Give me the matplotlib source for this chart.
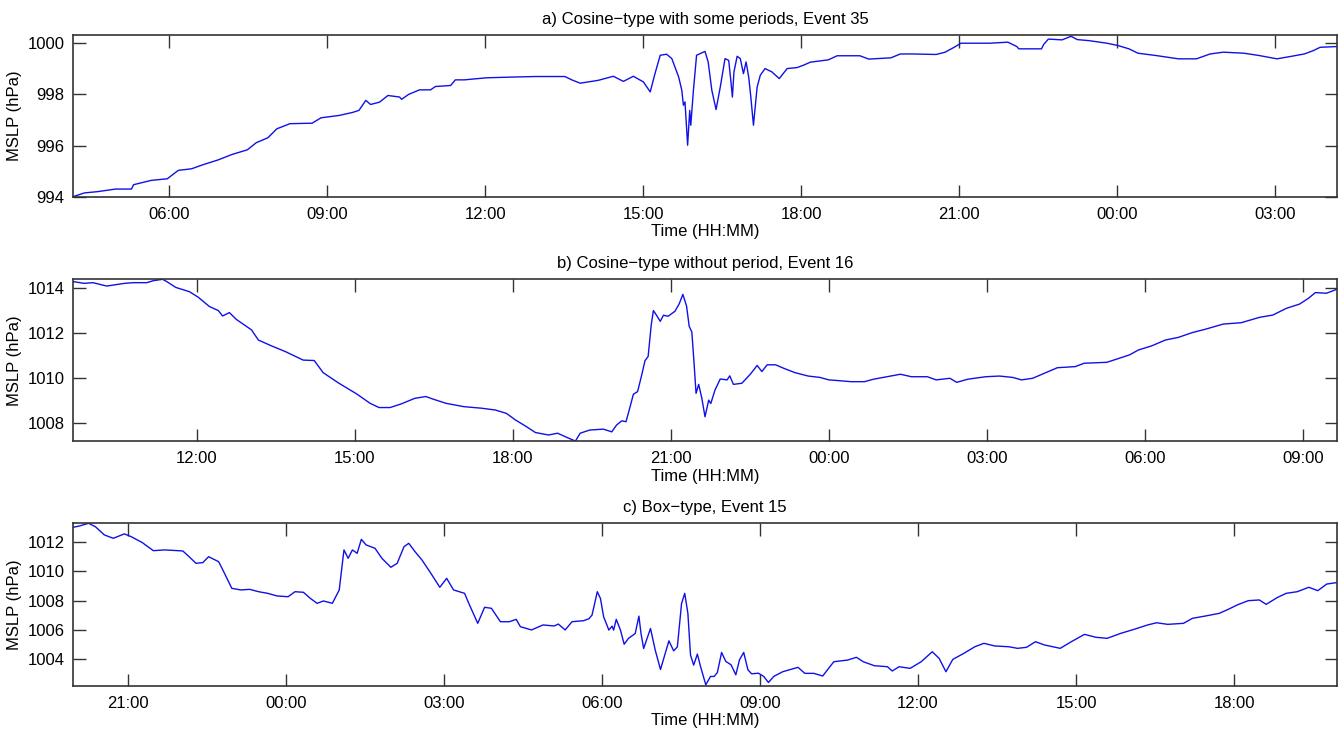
import matplotlib
matplotlib.use("Agg")
import matplotlib.pyplot as plt

plt.rcParams["font.family"] = ["Liberation Sans", "DejaVu Sans"]

# ---- a) Cosine-type with some periods, Event 35 (hours since 00:00 of day 1) ----
a_hours = [4.18, 4.39, 4.64, 4.98, 5.28, 5.32, 5.66, 5.96, 6.17, 6.42, 6.64, 6.93,
           7.19, 7.48, 7.65, 7.87, 8.04, 8.29, 8.71, 8.88, 9.22, 9.48, 9.60, 9.73,
           9.82, 9.99, 10.15, 10.37, 10.41, 10.54, 10.75, 10.96, 11.05, 11.34, 11.43,
           11.60, 12.02, 12.53, 12.95, 13.51, 13.64, 13.80, 14.14, 14.43, 14.62,
           14.81, 15.00, 15.13, 15.22, 15.32, 15.44, 15.54, 15.67, 15.73, 15.76,
           15.79, 15.84, 15.88, 15.90, 15.95, 16.01, 16.17, 16.23, 16.30, 16.38,
           16.46, 16.55, 16.62, 16.66, 16.69, 16.72, 16.78, 16.84, 16.90, 16.95,
           17.00, 17.04, 17.09, 17.16, 17.22, 17.31, 17.44, 17.58, 17.73, 17.92,
           18.05, 18.17, 18.51, 18.68, 19.11, 19.28, 19.70, 19.88, 20.13, 20.56,
           20.73, 20.90, 21.03, 21.58, 21.92, 22.09, 22.13, 22.56, 22.60, 22.69,
           22.95, 23.12, 23.24, 23.46, 23.80, 24.01, 24.22, 24.39, 24.73, 25.16,
           25.50, 25.76, 26.01, 26.40, 26.69, 27.03, 27.28, 27.55, 27.72, 27.85,
           28.17]
a_mslp = [994.02, 994.16, 994.21, 994.31, 994.31, 994.48, 994.65, 994.71, 995.04,
          995.10, 995.26, 995.45, 995.66, 995.84, 996.12, 996.31, 996.66, 996.86,
          996.88, 997.09, 997.18, 997.30, 997.38, 997.77, 997.61, 997.70, 997.96,
          997.90, 997.81, 998.00, 998.18, 998.18, 998.31, 998.35, 998.57, 998.57,
          998.65, 998.68, 998.70, 998.70, 998.57, 998.44, 998.55, 998.71, 998.51,
          998.71, 998.49, 998.10, 998.81, 999.53, 999.57, 999.40, 998.68, 998.16,
          997.58, 997.71, 996.02, 997.38, 996.80, 998.16, 999.53, 999.68, 999.27,
          998.16, 997.41, 998.29, 999.40, 999.33, 998.55, 997.90, 998.88, 999.49,
          999.40, 998.81, 999.27, 998.68, 997.90, 996.80, 998.29, 998.75, 999.01,
          998.88, 998.62, 999.01, 999.05, 999.15, 999.26, 999.35, 999.51, 999.51,
          999.38, 999.43, 999.58, 999.58, 999.56, 999.65, 999.84, 1000.00, 1000.00,
          1000.04, 999.87, 999.78, 999.78, 999.95, 1000.16, 1000.13, 1000.27,
          1000.14, 1000.10, 1000.00, 999.91, 999.78, 999.61, 999.52, 999.39, 999.39,
          999.58, 999.65, 999.61, 999.52, 999.39, 999.48, 999.58, 999.71, 999.84,
          999.87]
a_ticks = [6, 9, 12, 15, 18, 21, 24, 27]
a_ticklabels = ["06:00", "09:00", "12:00", "15:00", "18:00", "21:00", "00:00", "03:00"]
a_yticks = [994, 996, 998, 1000]

# ---- b) Cosine-type without period, Event 16 ----
b_hours = [9.65, 9.86, 10.03, 10.29, 10.63, 10.80, 11.05, 11.18, 11.35, 11.43, 11.60,
           11.86, 12.03, 12.24, 12.41, 12.49, 12.62, 12.75, 13.04, 13.17, 13.42,
           13.68, 14.02, 14.23, 14.40, 14.70, 15.04, 15.29, 15.46, 15.67, 15.88,
           16.14, 16.35, 16.48, 16.73, 17.07, 17.41, 17.67, 17.88, 18.05, 18.26,
           18.43, 18.68, 18.85, 19.02, 19.19, 19.28, 19.46, 19.72, 19.88, 19.97,
           20.07, 20.15, 20.22, 20.29, 20.37, 20.45, 20.51, 20.57, 20.63, 20.67,
           20.73, 20.80, 20.86, 20.95, 21.08, 21.16, 21.23, 21.30, 21.35, 21.40,
           21.44, 21.48, 21.53, 21.59, 21.65, 21.72, 21.76, 21.84, 21.94, 22.07,
           22.12, 22.19, 22.35, 22.51, 22.64, 22.73, 22.83, 22.99, 23.15, 23.36,
           23.61, 23.83, 24.00, 24.17, 24.42, 24.68, 24.85, 25.11, 25.36, 25.57,
           25.87, 26.04, 26.30, 26.43, 26.64, 26.98, 27.24, 27.49, 27.66, 27.87,
           28.09, 28.34, 28.68, 28.85, 29.28, 29.45, 29.71, 29.88, 30.13, 30.39,
           30.64, 30.90, 31.15, 31.49, 31.83, 32.18, 32.43, 32.69, 32.94, 33.11,
           33.24, 33.45, 33.65]
b_mslp = [1014.30, 1014.22, 1014.25, 1014.10, 1014.22, 1014.25, 1014.25, 1014.34,
          1014.40, 1014.30, 1014.04, 1013.85, 1013.60, 1013.19, 1013.01, 1012.77,
          1012.92, 1012.62, 1012.15, 1011.70, 1011.44, 1011.19, 1010.81, 1010.79,
          1010.25, 1009.78, 1009.30, 1008.89, 1008.70, 1008.70, 1008.86, 1009.11,
          1009.19, 1009.08, 1008.89, 1008.74, 1008.67, 1008.59, 1008.44, 1008.15,
          1007.85, 1007.59, 1007.48, 1007.56, 1007.38, 1007.21, 1007.56, 1007.70,
          1007.74, 1007.62, 1007.92, 1008.11, 1008.07, 1008.67, 1009.29, 1009.41,
          1010.16, 1010.78, 1010.97, 1012.39, 1013.01, 1012.80, 1012.53, 1012.80,
          1012.76, 1012.98, 1013.31, 1013.73, 1013.21, 1012.31, 1012.06, 1010.75,
          1009.33, 1009.73, 1009.11, 1008.29, 1009.03, 1008.88, 1009.48, 1009.97,
          1009.93, 1010.11, 1009.73, 1009.78, 1010.18, 1010.57, 1010.30, 1010.60,
          1010.60, 1010.44, 1010.25, 1010.10, 1010.04, 1009.93, 1009.90, 1009.85,
          1009.85, 1009.96, 1010.07, 1010.18, 1010.07, 1010.07, 1009.93, 1010.00,
          1009.82, 1009.96, 1010.07, 1010.10, 1010.04, 1009.93, 1010.00, 1010.22,
          1010.47, 1010.52, 1010.67, 1010.71, 1010.84, 1011.04, 1011.26, 1011.44,
          1011.70, 1011.82, 1012.03, 1012.18, 1012.41, 1012.47, 1012.71, 1012.81,
          1013.11, 1013.30, 1013.56, 1013.81, 1013.78, 1013.96]
b_ticks = [12, 15, 18, 21, 24, 27, 30, 33]
b_ticklabels = ["12:00", "15:00", "18:00", "21:00", "00:00", "03:00", "06:00", "09:00"]
b_yticks = [1008, 1010, 1012, 1014]

# ---- c) Box-type, Event 15 ----
c_hours = [19.96, 20.08, 20.25, 20.38, 20.55, 20.72, 20.93, 21.06, 21.27, 21.48,
           21.70, 22.04, 22.16, 22.29, 22.42, 22.53, 22.72, 22.80, 22.97, 23.14,
           23.31, 23.48, 23.65, 23.83, 24.04, 24.17, 24.33, 24.46, 24.59, 24.71,
           24.88, 25.01, 25.10, 25.18, 25.26, 25.35, 25.43, 25.52, 25.69, 25.82,
           25.99, 26.11, 26.24, 26.33, 26.45, 26.58, 26.75, 26.92, 27.05, 27.18,
           27.39, 27.47, 27.64, 27.77, 27.90, 28.07, 28.24, 28.37, 28.45, 28.66,
           28.88, 29.09, 29.17, 29.30, 29.43, 29.65, 29.75, 29.81, 29.91, 29.97,
           30.03, 30.13, 30.19, 30.22, 30.27, 30.35, 30.42, 30.50, 30.63, 30.70,
           30.74, 30.79, 30.92, 31.01, 31.11, 31.20, 31.27, 31.36, 31.43, 31.51,
           31.57, 31.63, 31.68, 31.74, 31.81, 31.87, 31.97, 32.06, 32.13, 32.19,
           32.27, 32.35, 32.45, 32.54, 32.61, 32.69, 32.77, 32.84, 32.97, 33.07,
           33.16, 33.26, 33.43, 33.72, 33.85, 34.02, 34.19, 34.40, 34.66, 34.83,
           34.96, 35.17, 35.42, 35.51, 35.64, 35.85, 36.06, 36.27, 36.40, 36.53,
           36.66, 36.87, 37.08, 37.25, 37.46, 37.72, 37.89, 38.06, 38.23, 38.40,
           38.70, 38.91, 39.16, 39.38, 39.59, 39.85, 40.10, 40.36, 40.53, 40.74,
           41.04, 41.21, 41.46, 41.72, 41.89, 42.06, 42.27, 42.48, 42.61, 42.82,
           42.99, 43.20, 43.42, 43.59, 43.76, 43.95]
c_mslp = [1012.98, 1013.07, 1013.25, 1013.02, 1012.46, 1012.23, 1012.53, 1012.34,
          1011.94, 1011.39, 1011.44, 1011.37, 1010.98, 1010.53, 1010.58, 1010.98,
          1010.64, 1010.08, 1008.83, 1008.72, 1008.76, 1008.60, 1008.49, 1008.31,
          1008.26, 1008.60, 1008.56, 1008.15, 1007.81, 1007.97, 1007.81, 1008.72,
          1011.44, 1010.87, 1011.44, 1011.21, 1012.16, 1011.78, 1011.55, 1010.87,
          1010.26, 1010.53, 1011.66, 1011.89, 1011.32, 1010.76, 1009.85, 1008.90,
          1009.51, 1008.72, 1008.49, 1007.81, 1006.45, 1007.54, 1007.47, 1006.56,
          1006.56, 1006.72, 1006.22, 1006.00, 1006.34, 1006.27, 1006.40, 1006.00,
          1006.56, 1006.63, 1006.76, 1007.01, 1008.60, 1008.14, 1006.90, 1005.99,
          1006.26, 1005.99, 1006.72, 1005.99, 1005.03, 1005.42, 1005.76, 1006.94,
          1005.76, 1004.74, 1006.10, 1004.63, 1003.31, 1004.40, 1005.26, 1004.58,
          1004.85, 1007.80, 1008.49, 1007.13, 1004.29, 1003.61, 1004.36, 1003.52,
          1002.27, 1002.84, 1002.84, 1003.11, 1004.47, 1003.86, 1003.63, 1002.95,
          1003.97, 1004.47, 1003.29, 1003.02, 1003.06, 1002.84, 1002.43, 1002.84,
          1003.16, 1003.46, 1003.05, 1003.05, 1002.87, 1003.84, 1003.95, 1004.14,
          1003.84, 1003.57, 1003.50, 1003.21, 1003.50, 1003.39, 1003.84, 1004.52,
          1004.07, 1003.16, 1004.00, 1004.41, 1004.86, 1005.09, 1004.91, 1004.86,
          1004.75, 1004.82, 1005.20, 1004.98, 1004.75, 1005.20, 1005.70, 1005.50,
          1005.43, 1005.77, 1006.04, 1006.34, 1006.49, 1006.38, 1006.45, 1006.79,
          1006.95, 1007.13, 1007.40, 1007.70, 1007.99, 1008.04, 1007.74, 1008.20,
          1008.49, 1008.60, 1008.90, 1008.67, 1009.12, 1009.22]
c_ticks = [21, 24, 27, 30, 33, 36, 39, 42]
c_ticklabels = ["21:00", "00:00", "03:00", "06:00", "09:00", "12:00", "15:00", "18:00"]
c_yticks = [1004, 1006, 1008, 1010, 1012]

panels = [
    ("a) Cosine\u2212type with some periods, Event 35", a_hours, a_mslp,
     a_ticks, a_ticklabels, a_yticks, (4.17, 28.17), (994.0, 1000.32)),
    ("b) Cosine\u2212type without period, Event 16", b_hours, b_mslp,
     b_ticks, b_ticklabels, b_yticks, (9.65, 33.65), (1007.2, 1014.4)),
    ("c) Box\u2212type, Event 15", c_hours, c_mslp,
     c_ticks, c_ticklabels, c_yticks, (19.955, 43.955), (1002.19, 1013.25)),
]

W, H = 1343, 733
fig = plt.figure(figsize=(W / 100, H / 100), dpi=100)
boxes = [(35, 197), (279.3, 441.3), (523.3, 686)]
left, right = 73, 1337

for (title, hrs, p, ticks, labels, yticks, xlim, ylim), (top, bot) in zip(panels, boxes):
    ax = fig.add_axes([left / W, 1 - bot / H, (right - left) / W, (bot - top) / H])
    ax.plot(hrs, p, color="#1010e8", lw=1.0)
    ax.set_xlim(*xlim)
    ax.set_ylim(*ylim)
    ax.set_xticks(ticks)
    ax.set_xticklabels(labels)
    ax.set_yticks(yticks)
    ax.tick_params(direction="in", length=9, width=1.0, color="#333333",
                   labelsize=12, top=True, right=True, pad=6)
    ax.tick_params(axis="x", pad=7)
    for s in ax.spines.values():
        s.set_color("#333333")
        s.set_linewidth(1.2)
    ax.set_title(title, fontsize=12, pad=8)
    ax.set_xlabel("Time (HH:MM)", fontsize=12, labelpad=2)
    ax.set_ylabel("MSLP (hPa)", fontsize=12, labelpad=4)

fig.savefig("out.png", dpi=100)
